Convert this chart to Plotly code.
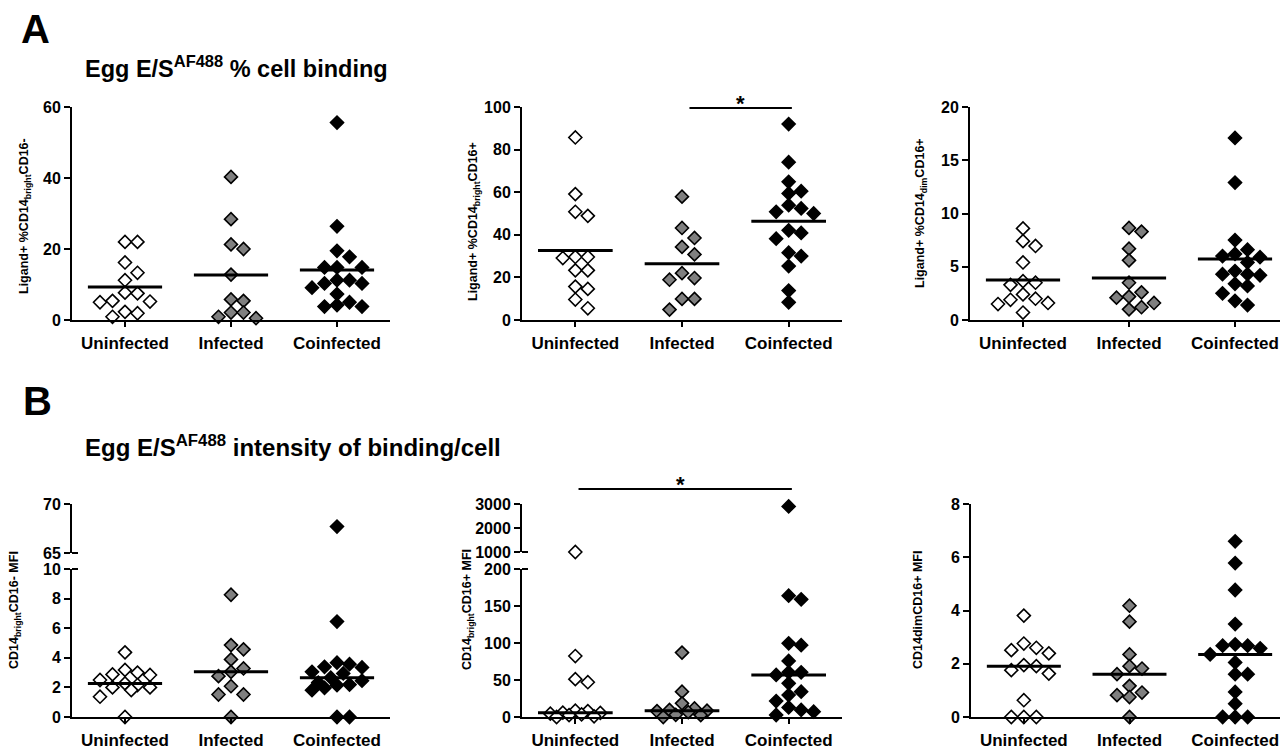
import plotly.graph_objects as go

W, H = 1288, 750
GROUPS = ["Uninfected", "Infected", "Coinfected"]

# ---------------- data ----------------
# A: Egg E/S AF488 % cell binding (line = mean)
a1_uninfected = [22.0, 22.0, 16.2, 13.3, 11.2, 7.7, 7.5, 5.4, 5.2, 5.0, 2.3, 1.9, 0.9]
a1_infected = [40.3, 28.4, 21.3, 20.0, 12.8, 5.8, 5.4, 2.1, 2.1, 0.9, 0.5]
a1_coinfected = [55.6, 26.4, 19.5, 17.8, 14.8, 14.8, 14.8, 11.2, 11.2, 10.3, 10.3, 9.1, 7.3, 5.0, 4.2, 3.8, 3.8]

a2_uninfected = [85.7, 59.1, 50.8, 48.9, 29.6, 29.6, 29.1, 23.3, 23.3, 15.7, 14.6, 9.6, 5.5]
a2_infected = [57.9, 43.2, 38.5, 34.3, 30.8, 22.0, 19.7, 18.9, 9.9, 9.9, 4.9]
a2_coinfected = [92.0, 74.1, 64.9, 60.5, 59.4, 53.9, 52.4, 50.8, 50.0, 42.1, 40.9, 38.2, 31.6, 30.0, 25.3, 13.8, 8.3]

a3_uninfected = [8.6, 7.4, 6.95, 5.4, 3.65, 3.5, 3.3, 2.4, 2.0, 1.9, 1.6, 1.5, 0.7]
a3_infected = [8.65, 8.3, 6.7, 5.6, 3.5, 2.6, 2.2, 2.1, 1.6, 1.2, 1.0]
a3_coinfected = [17.1, 12.9, 7.5, 6.6, 6.2, 6.0, 5.9, 5.4, 4.6, 4.3, 4.3, 4.2, 3.4, 3.2, 2.5, 1.8, 1.4]

# B: Egg E/S AF488 intensity of binding/cell (MFI, line = median)
b1_uninfected = [4.37, 3.18, 3.0, 2.88, 2.84, 2.5, 2.27, 2.16, 2.0, 2.0, 1.82, 1.37, 0.0]
b1_infected = [8.26, 4.86, 4.57, 3.89, 3.28, 3.05, 2.76, 2.08, 1.52, 1.52, 0.0]
b1_coinfected = [67.7, 6.45, 3.67, 3.57, 3.39, 3.35, 3.05, 2.94, 2.66, 2.45, 2.33, 2.19, 2.15, 1.97, 1.81, 0.0, 0.0]

b2_uninfected = [1000.0, 82.4, 51.1, 47.0, 8.5, 8.0, 5.9, 5.5, 4.5, 3.5, 2.5, 1.0, 0.0]
b2_infected = [87.0, 34.2, 18.5, 11.5, 9.5, 8.6, 8.0, 6.5, 3.0, 2.5, 0.0]
b2_coinfected = [2900.0, 164.0, 159.0, 99.5, 97.0, 75.7, 60.4, 60.4, 56.8, 45.5, 34.2, 29.7, 21.6, 13.0, 9.5, 7.2, 2.7]

b3_uninfected = [3.81, 2.76, 2.6, 2.51, 2.39, 1.95, 1.91, 1.76, 1.63, 0.63, 0.0, 0.0, 0.0]
b3_infected = [4.18, 3.58, 2.35, 1.91, 1.82, 1.61, 1.17, 0.92, 0.82, 0.75, 0.0]
b3_coinfected = [6.6, 5.78, 4.77, 3.49, 2.73, 2.68, 2.68, 2.58, 2.35, 2.05, 1.61, 1.61, 0.94, 0.5, 0.0, 0.0, 0.0]

# ---------------- styling / layout ----------------
FONT = "Liberation Sans, Arial, Helvetica, sans-serif"
FILLS = ["white", "#7f7f7f", "black"]
OFFSET_X = 8  # page body margin
OFFSET_Y = 8


def fx(xp):
    return (xp - OFFSET_X) / W


def fy(yp):
    return 1 - (yp - OFFSET_Y) / H


# segments: (vmin, vmax, pixel_bottom, pixel_top, yaxis id, tick values)
panels = [
    dict(x="x", left=72, right=390, stat="mean",
         data=[a1_uninfected, a1_infected, a1_coinfected],
         segs=[(0, 60, 320, 107, "y", [0, 20, 40, 60])],
         title="Ligand+ %CD14<sub>bright</sub>CD16-", tpos=(25, 216), tsize=12.5),
    dict(x="x2", left=522, right=842, stat="mean",
         data=[a2_uninfected, a2_infected, a2_coinfected],
         segs=[(0, 100, 320, 107, "y2", [0, 20, 40, 60, 80, 100])],
         title="Ligand+ %CD14<sub>bright</sub>CD16+", tpos=(474, 222), tsize=12.5),
    dict(x="x3", left=970, right=1288, stat="mean",
         data=[a3_uninfected, a3_infected, a3_coinfected],
         segs=[(0, 20, 320, 107, "y3", [0, 5, 10, 15, 20])],
         title="Ligand+ %CD14<sub>dim</sub>CD16+", tpos=(921, 213), tsize=12.5),
    dict(x="x4", left=72, right=390, stat="median",
         data=[b1_uninfected, b1_infected, b1_coinfected],
         segs=[(0, 10, 717, 569, "y4", [0, 2, 4, 6, 8, 10]),
               (65, 70, 553, 504, "y7", [65, 70])],
         title="CD14<sub>bright</sub>CD16- MFI", tpos=(15, 610), tsize=12.5),
    dict(x="x5", left=522, right=842, stat="median",
         data=[b2_uninfected, b2_infected, b2_coinfected],
         segs=[(0, 200, 717, 569, "y5", [0, 50, 100, 150, 200]),
               (1000, 3000, 552, 504, "y8", [1000, 2000, 3000])],
         title="CD14<sub>bright</sub>CD16+ MFI", tpos=(468, 610), tsize=12.5),
    dict(x="x6", left=971, right=1288, stat="median",
         data=[b3_uninfected, b3_infected, b3_coinfected],
         segs=[(0, 8, 717, 504, "y6", [0, 2, 4, 6, 8])],
         title="CD14dimCD16+ MFI", tpos=(918, 610), tsize=12.5),
]


def seg_for(value, segs):
    for s in segs:
        if value <= s[1]:
            return s
    return segs[-1]


def to_px(value, s):
    vmin, vmax, pb, pt = s[0], s[1], s[2], s[3]
    return pb - (value - vmin) / (vmax - vmin) * (pb - pt)


def swarm(values, segs, step=12.5, bw=12.0, bh=11.0):
    """Column-scatter layout: spread points that would overlap sideways."""
    order = sorted(range(len(values)), key=lambda i: -values[i])
    primary = [0, 1, -1, 2, -2]
    secondary = [0.5, -0.5, 1.5, -1.5]
    placed, offs = [], [0.0] * len(values)
    for i in order:
        ypx = to_px(values[i], seg_for(values[i], segs))

        def free(dx):
            return all(not (abs(dx - a) < bw and abs(ypx - b) < bh) for a, b in placed)

        def score(dx):
            return min([abs(dx - a) + abs(ypx - b) for a, b in placed] or [1e9])

        choice = None
        for k in primary + secondary:
            if free(k * step):
                choice = k * step
                break
        if choice is None:
            choice = max([k * step for k in primary + secondary], key=score)
        placed.append((choice, ypx))
        offs[i] = choice
    return offs


def axkey(prefix, ident):
    return prefix + ident[1:]


tick_font = dict(family=FONT, size=16, color="black", weight="bold")
cat_font = dict(family=FONT, size=17, color="black", weight="bold")
base_axis = dict(showline=True, linecolor="black", linewidth=2, ticks="outside",
                 tickcolor="black", tickwidth=2, showgrid=False, zeroline=False,
                 fixedrange=True, automargin=False)

layout = dict(width=W, height=H,
              margin=dict(l=0, r=0, t=0, b=0, pad=0, autoexpand=False),
              autosize=False,
              paper_bgcolor="white", plot_bgcolor="white", showlegend=False)
annotations, shapes = [], []
fig = go.Figure()

for p in panels:
    xa = p["x"]
    segs = p["segs"]
    layout[axkey("xaxis", xa)] = dict(
        base_axis, domain=[fx(p["left"]), min(1.0, fx(p["right"]))], range=[-0.5, 2.5],
        tickmode="array", tickvals=[0, 1, 2], ticktext=GROUPS, ticklen=5,
        tickfont=cat_font, ticklabelstandoff=2, anchor=segs[0][4])
    for s in segs:
        layout[axkey("yaxis", s[4])] = dict(
            base_axis, domain=[fy(s[2]), fy(s[3])], range=[s[0], s[1]],
            tickmode="array", tickvals=s[5], ticklen=6, tickfont=tick_font,
            anchor=xa)
    cat_px = (p["right"] - p["left"]) / 3.0
    for gi, vals in enumerate(p["data"]):
        offs = swarm(vals, segs)
        for s in segs:
            xs = [gi + o / cat_px for v, o in zip(vals, offs) if seg_for(v, segs) is s]
            ys = [v for v in vals if seg_for(v, segs) is s]
            if not ys:
                continue
            fig.add_trace(go.Scatter(
                x=xs, y=ys, xaxis=xa, yaxis=s[4], mode="markers", cliponaxis=False,
                marker=dict(symbol="diamond", size=10, color=FILLS[gi],
                            line=dict(color="black", width=1.6)),
                hoverinfo="y"))
        sv = sorted(vals)
        if p["stat"] == "mean":
            m = sum(vals) / len(vals)
        else:
            n = len(sv)
            m = sv[n // 2] if n % 2 else 0.5 * (sv[n // 2 - 1] + sv[n // 2])
        ms = seg_for(m, segs)
        fig.add_trace(go.Scatter(
            x=[gi - 0.35, gi + 0.35], y=[m, m], xaxis=xa, yaxis=ms[4], mode="lines",
            line=dict(color="black", width=3), cliponaxis=False, hoverinfo="skip"))
    tx, ty = p["tpos"]
    annotations.append(dict(xref="paper", yref="paper", x=fx(tx), y=fy(ty),
                            text=p["title"], textangle=-90, showarrow=False,
                            xanchor="center", yanchor="middle",
                            font=dict(family=FONT, size=p["tsize"], color="black", weight="bold")))
    # axis break marks (end ticks crossing the axis)
    if len(segs) > 1:
        for ypx in (segs[1][2], segs[0][3]):
            shapes.append(dict(type="line", xref="paper", yref="paper",
                               x0=fx(p["left"]), x1=fx(p["left"] + 6),
                               y0=fy(ypx), y1=fy(ypx),
                               line=dict(color="black", width=2)))

annotations += [
    dict(xref="paper", yref="paper", x=fx(19), y=fy(29), text="A", showarrow=False,
         xanchor="left", yanchor="middle", font=dict(family=FONT, size=40, color="black", weight="bold")),
    dict(xref="paper", yref="paper", x=fx(83), y=fy(67),
         text="Egg E/S<sup>AF488</sup> % cell binding", showarrow=False,
         xanchor="left", yanchor="middle", font=dict(family=FONT, size=23.5, color="black", weight="bold")),
    dict(xref="paper", yref="paper", x=fx(21), y=fy(401), text="B", showarrow=False,
         xanchor="left", yanchor="middle", font=dict(family=FONT, size=40, color="black", weight="bold")),
    dict(xref="paper", yref="paper", x=fx(83), y=fy(446),
         text="Egg E/S<sup>AF488</sup> intensity of binding/cell", showarrow=False,
         xanchor="left", yanchor="middle", font=dict(family=FONT, size=24, color="black", weight="bold")),
]

# significance bars
shapes.append(dict(type="line", xref="x2", yref="paper", x0=1.07, x1=2.03,
                   y0=fy(108), y1=fy(108), line=dict(color="black", width=2)))
annotations.append(dict(xref="x2", yref="paper", x=1.55, y=fy(103), text="*", showarrow=False,
                        xanchor="center", yanchor="middle",
                        font=dict(family=FONT, size=22, color="black", weight="bold")))
shapes.append(dict(type="line", xref="x5", yref="paper", x0=0.03, x1=2.03,
                   y0=fy(489), y1=fy(489), line=dict(color="black", width=2)))
annotations.append(dict(xref="x5", yref="paper", x=0.99, y=fy(484), text="*", showarrow=False,
                        xanchor="center", yanchor="middle",
                        font=dict(family=FONT, size=22, color="black", weight="bold")))

layout["annotations"] = annotations
layout["shapes"] = shapes
fig.update_layout(**layout)
fig.write_html("out.html")
